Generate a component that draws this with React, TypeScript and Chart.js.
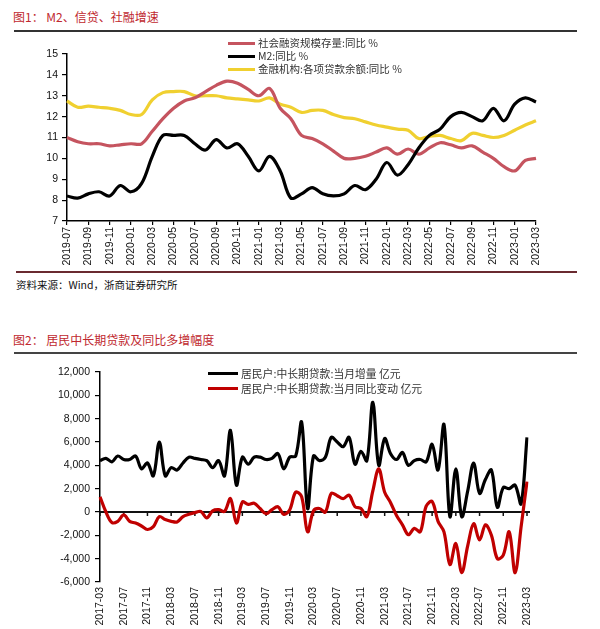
import React, { useEffect, useRef } from "react";
import { Chart, registerables } from "chart.js";

Chart.register(...registerables);

// ---------- Chart 1: M2, loans, AFRE growth ----------
const months1 = [
  "2019-07", "2019-08", "2019-09", "2019-10", "2019-11", "2019-12",
  "2020-01", "2020-02", "2020-03", "2020-04", "2020-05", "2020-06",
  "2020-07", "2020-08", "2020-09", "2020-10", "2020-11", "2020-12",
  "2021-01", "2021-02", "2021-03", "2021-04", "2021-05", "2021-06",
  "2021-07", "2021-08", "2021-09", "2021-10", "2021-11", "2021-12",
  "2022-01", "2022-02", "2022-03", "2022-04", "2022-05", "2022-06",
  "2022-07", "2022-08", "2022-09", "2022-10", "2022-11", "2022-12",
  "2023-01", "2023-02", "2023-03",
];
const afreYoY = [
  11.0, 10.8, 10.7, 10.7, 10.6, 10.65, 10.7, 10.7, 11.3, 11.9, 12.4, 12.75,
  12.9, 13.2, 13.5, 13.7, 13.6, 13.3, 13.0, 13.35, 12.4, 11.9, 11.1, 10.95,
  10.7, 10.35, 10.0, 10.0, 10.1, 10.3, 10.5, 10.2, 10.45, 10.2, 10.5, 10.75,
  10.65, 10.5, 10.6, 10.3, 10.0, 9.6, 9.4, 9.9, 10.0,
];
const m2YoY = [
  8.2, 8.1, 8.3, 8.4, 8.2, 8.7, 8.4, 8.8, 10.1, 11.1, 11.1, 11.1,
  10.7, 10.4, 10.9, 10.5, 10.7, 10.1, 9.4, 10.1, 9.4, 8.1, 8.3, 8.6,
  8.3, 8.2, 8.3, 8.7, 8.5, 9.0, 9.8, 9.2, 9.7, 10.5, 11.1, 11.4,
  12.0, 12.2, 12.0, 11.8, 12.4, 11.8, 12.6, 12.9, 12.7,
];
const loanYoY = [
  12.75, 12.45, 12.5, 12.45, 12.4, 12.3, 12.1, 12.1, 12.8, 13.15, 13.2, 13.2,
  13.0, 13.0, 13.0, 12.9, 12.85, 12.8, 12.75, 12.9, 12.6, 12.45, 12.2, 12.3,
  12.3, 12.1, 11.95, 11.9, 11.75, 11.6, 11.5, 11.4, 11.35, 10.95, 11.05, 11.1,
  10.95, 10.85, 11.2, 11.1, 11.0, 11.1, 11.35, 11.6, 11.8,
];
const y1Min = 7;
const y1Max = 15;
const y1Step = 1;
const legend1 = [
  "社会融资规模存量:同比 %",
  "M2:同比 %",
  "金融机构:各项贷款余额:同比 %",
];

// ---------- Chart 2: household medium/long-term loans ----------
const months2 = [
  "2017-03", "2017-04", "2017-05", "2017-06", "2017-07", "2017-08", "2017-09", "2017-10", "2017-11", "2017-12",
  "2018-01", "2018-02", "2018-03", "2018-04", "2018-05", "2018-06", "2018-07", "2018-08", "2018-09", "2018-10", "2018-11", "2018-12",
  "2019-01", "2019-02", "2019-03", "2019-04", "2019-05", "2019-06", "2019-07", "2019-08", "2019-09", "2019-10", "2019-11", "2019-12",
  "2020-01", "2020-02", "2020-03", "2020-04", "2020-05", "2020-06", "2020-07", "2020-08", "2020-09", "2020-10", "2020-11", "2020-12",
  "2021-01", "2021-02", "2021-03", "2021-04", "2021-05", "2021-06", "2021-07", "2021-08", "2021-09", "2021-10", "2021-11", "2021-12",
  "2022-01", "2022-02", "2022-03", "2022-04", "2022-05", "2022-06", "2022-07", "2022-08", "2022-09", "2022-10", "2022-11", "2022-12",
  "2023-01", "2023-02", "2023-03",
];
const hhLoanMonthly = [
  4400, 4600, 4300, 4800, 4500, 4500, 4800, 3700, 4200, 3100,
  6000, 3100, 3800, 3600, 4200, 4700, 4600, 4500, 4400, 3800, 4400, 3100,
  7000, 2300, 4700, 4100, 4700, 4700, 4500, 4600, 5000, 3700, 4700, 4800,
  7700, 300, 4800, 4400, 4700, 6400, 6000, 5600, 6400, 4100, 5200, 4400,
  9400, 4000, 6300, 5000, 4500, 5100, 4000, 4400, 4500, 4300, 5800, 3600,
  7500, -400, 3700, -400, 1800, 4200, 1600, 2800, 3600, 400, 2100, 2000,
  2300, 700, 6400,
];
const hhLoanYoYChange = [
  1300, 0, -900, -800, -250, -800, -950, -1200, -1500, -1250,
  -400, -650, -800, -850, -400, -200, -50, 50, -500, 100, 200, 50,
  1150, -950, 850, 650, 750, 300, -150, 200, 450, -200, 200, 1700,
  1300, -1700, 100, 300, 0, 1600, 1400, 1150, 1450, 450, 300, -400,
  1800, 3700, 1700, 800, -300, -1100, -1950, -1400, -1700, 500, 900, -800,
  -1700, -4500, -2700, -5200, -2900, -1000, -2400, -1100, -2000, -4000, -3700, -1700,
  -5200, -1300, 2600,
];
const y2Min = -6000;
const y2Max = 12000;
const y2Step = 2000;
const legend2 = [
  "居民户:中长期贷款:当月增量 亿元",
  "居民户:中长期贷款:当月同比变动 亿元",
];

const pink = "#c5545f";
const yellow = "#f0d030";
const darkRed = "#c00000";

const tickFont = { family: '"Liberation Sans", Arial, sans-serif', size: 10.5 };
const tickColor = "#111";

const zeroAxisPlugin = {
  id: "zeroAxis",
  beforeDatasetsDraw(chart: any) {
    const x = chart.scales.x;
    const y = chart.scales.y;
    const y0 = y.getPixelForValue(0);
    const ctx = chart.ctx;
    ctx.save();
    ctx.strokeStyle = "#111";
    ctx.lineWidth = 2;
    ctx.beginPath();
    ctx.moveTo(chart.chartArea.left, y0);
    ctx.lineTo(chart.chartArea.right + 3, y0);
    ctx.stroke();
    ctx.lineWidth = 1.5;
    for (let i = 0; i < months2.length; i += 4) {
      const px = x.getPixelForValue(i);
      ctx.beginPath();
      ctx.moveTo(px, y0);
      ctx.lineTo(px, y0 + 4);
      ctx.stroke();
    }
    ctx.restore();
  },
};

function Chart1() {
  const ref = useRef<HTMLCanvasElement>(null);
  useEffect(() => {
    const chart = new Chart(ref.current as HTMLCanvasElement, {
      type: "line",
      data: {
        labels: months1,
        datasets: [
          { label: legend1[1], data: m2YoY, borderColor: "#000000", borderWidth: 3.2, order: 0 },
          { label: legend1[0], data: afreYoY, borderColor: pink, borderWidth: 3.2, order: 1 },
          { label: legend1[2], data: loanYoY, borderColor: yellow, borderWidth: 3.2, order: 2 },
        ],
      },
      options: {
        responsive: false,
        animation: false,
        layout: { padding: { top: 18, right: 24, left: 0, bottom: 0 } },
        elements: { point: { radius: 0 }, line: { tension: 0.35 } },
        plugins: { legend: { display: false }, tooltip: { enabled: false } },
        scales: {
          x: {
            type: "category",
            offset: false,
            grid: { display: true, drawOnChartArea: false, drawTicks: true, tickLength: 4, color: "#000", lineWidth: 1.2 },
            border: { display: true, color: "#000", width: 1.5 },
            ticks: {
              autoSkip: false,
              maxRotation: 90,
              minRotation: 90,
              padding: 2,
              font: tickFont,
              color: tickColor,
              callback: function (this: any, value: any, index: number) {
                return index % 2 === 0 ? months1[index] : null;
              },
            },
            afterFit: (s: any) => { s.height = 47; },
          },
          y: {
            min: y1Min,
            max: y1Max,
            grid: { display: true, drawOnChartArea: false, drawTicks: true, tickLength: 5, color: "#000", lineWidth: 1.2 },
            border: { display: true, color: "#000", width: 1.5 },
            ticks: { stepSize: y1Step, font: tickFont, color: tickColor, padding: 4 },
            afterFit: (s: any) => { s.width = 67; },
          },
        },
      },
    });
    return () => chart.destroy();
  }, []);
  return <canvas ref={ref} width={560} height={232} style={{ position: "absolute", left: 0, top: 36 }} />;
}

function Chart2() {
  const ref = useRef<HTMLCanvasElement>(null);
  useEffect(() => {
    const chart = new Chart(ref.current as HTMLCanvasElement, {
      type: "line",
      data: {
        labels: months2,
        datasets: [
          { label: legend2[1], data: hhLoanYoYChange, borderColor: darkRed, borderWidth: 3.2, order: 0 },
          { label: legend2[0], data: hhLoanMonthly, borderColor: "#000000", borderWidth: 3.2, order: 1 },
        ],
      },
      options: {
        responsive: false,
        animation: false,
        layout: { padding: { top: 17, right: 33, left: 0, bottom: 0 } },
        elements: { point: { radius: 0 }, line: { tension: 0.35 } },
        plugins: { legend: { display: false }, tooltip: { enabled: false } },
        scales: {
          x: {
            type: "category",
            offset: false,
            grid: { display: false, drawTicks: false, tickLength: 0 },
            border: { display: false },
            ticks: {
              autoSkip: false,
              maxRotation: 90,
              minRotation: 90,
              padding: 5,
              font: tickFont,
              color: tickColor,
              callback: function (this: any, value: any, index: number) {
                return index % 4 === 0 ? months2[index] : null;
              },
            },
            afterFit: (s: any) => { s.height = 47; },
          },
          y: {
            min: y2Min,
            max: y2Max,
            grid: { display: true, drawOnChartArea: false, drawTicks: true, tickLength: 5, color: "#000", lineWidth: 1.2 },
            border: { display: true, color: "#000", width: 1.5 },
            ticks: {
              stepSize: y2Step,
              font: tickFont,
              color: tickColor,
              padding: 5,
              callback: (v: any) => Number(v).toLocaleString("en-US"),
            },
            afterFit: (s: any) => { s.width = 100; },
          },
        },
      },
      plugins: [zeroAxisPlugin],
    });
    return () => chart.destroy();
  }, []);
  return <canvas ref={ref} width={560} height={274} style={{ position: "absolute", left: 0, top: 355 }} />;
}

const cjk = '"Noto Sans CJK SC", "Noto Sans", sans-serif';

function LegendRow(props: { x: number; y: number; color: string; text: string; lineW: number; size: number }) {
  return (
    <div style={{ position: "absolute", left: props.x, top: props.y - 8, height: 16, display: "flex", alignItems: "center", whiteSpace: "nowrap" }}>
      <div style={{ width: props.lineW, height: 3, background: props.color, marginRight: 3 }} />
      <span style={{ fontFamily: cjk, fontSize: props.size, color: "#333", lineHeight: "16px" }}>{props.text}</span>
    </div>
  );
}

export default function App() {
  return (
    <div style={{ position: "absolute", left: 0, top: 0, width: 600, height: 629, background: "#fff", overflow: "hidden" }}>
      <Chart1 />
      <Chart2 />
      <div style={{ position: "absolute", left: 13, top: 9, fontFamily: cjk, fontSize: 12, color: "#c0282e", lineHeight: "16px", whiteSpace: "nowrap" }}>
        图1： M2、信贷、社融增速
      </div>
      <div style={{ position: "absolute", left: 14, top: 30, width: 563, height: 2, background: "#333" }} />
      <LegendRow x={228} y={43} color={pink} text={legend1[0]} lineW={27} size={10.5} />
      <LegendRow x={228} y={56} color="#000000" text={legend1[1]} lineW={27} size={10.5} />
      <LegendRow x={228} y={69} color={yellow} text={legend1[2]} lineW={27} size={10.5} />
      <div style={{ position: "absolute", left: 16, top: 271, width: 561, height: 2, background: "#6a2a30" }} />
      <div style={{ position: "absolute", left: 16, top: 277, fontFamily: cjk, fontSize: 10.5, color: "#111", lineHeight: "16px", whiteSpace: "nowrap" }}>
        资料来源：Wind，浙商证券研究所
      </div>
      <div style={{ position: "absolute", left: 13, top: 332, fontFamily: cjk, fontSize: 12, color: "#c0282e", lineHeight: "16px", whiteSpace: "nowrap" }}>
        图2： 居民中长期贷款及同比多增幅度
      </div>
      <div style={{ position: "absolute", left: 14, top: 352, width: 563, height: 2, background: "#444" }} />
      <LegendRow x={208} y={373} color="#000000" text={legend2[0]} lineW={30} size={10.8} />
      <LegendRow x={208} y={388} color={darkRed} text={legend2[1]} lineW={30} size={10.8} />
    </div>
  );
}
